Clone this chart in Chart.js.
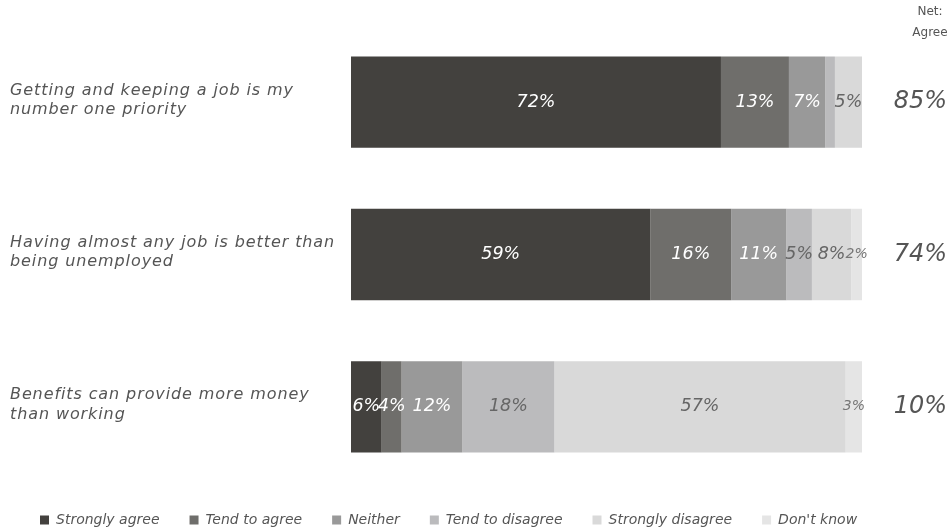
<!DOCTYPE html>
<html><head><meta charset="utf-8">
<script src="https://cdn.jsdelivr.net/npm/chart.js@4.4.1/dist/chart.umd.min.js"></script>
<style>html,body{margin:0;padding:0;background:#fff;}</style>
</head><body>
<canvas id="c" width="950" height="528"></canvas>
<script>
const categories = [
  ["Getting and keeping a job is my", "number one priority"],
  ["Having almost any job is better than", "being unemployed"],
  ["Benefits can provide more money", "than working"]
];
const seriesNames = ["Strongly agree", "Tend to agree", "Neither", "Tend to disagree", "Strongly disagree", "Don't know"];
const stronglyAgree    = [72.4, 58.6, 6.0];
const tendToAgree      = [13.3, 15.8, 3.9];
const neither          = [7.1, 10.8, 11.9];
const tendToDisagree   = [1.9, 5.0, 18.0];
const stronglyDisagree = [5.3, 7.7, 57.0];
const dontKnow         = [0, 2.1, 3.2];
const netAgree = ["85%", "74%", "10%"];
const netHeader = ["Net:", "Agree"];

const palette = ['#43413e', '#6f6e6b', '#999999', '#bbbbbd', '#d9d9d9', '#e5e5e5'];
const labelColors = ['#ffffff', '#ffffff', '#ffffff', '#666666', '#666666', '#777777'];
const FAM = "'DejaVu Sans', sans-serif";

const seriesValues = [stronglyAgree, tendToAgree, neither, tendToDisagree, stronglyDisagree, dontKnow];

const valueLabels = {
  id: 'valueLabels',
  afterDatasetsDraw(chart) {
    const ctx = chart.ctx, a = chart.chartArea;
    ctx.save();
    ctx.beginPath();
    ctx.rect(a.left, 0, chart.width - a.left, chart.height);
    ctx.clip();
    ctx.textAlign = 'center';
    ctx.textBaseline = 'middle';
    chart.data.datasets.forEach((ds, di) => {
      const meta = chart.getDatasetMeta(di);
      meta.data.forEach((bar, i) => {
        const v = ds.data[i];
        if (!(v >= 2)) return;
        ctx.font = 'italic ' + (v < 3.5 ? 14 : 17.5) + 'px ' + FAM;
        ctx.fillStyle = labelColors[di];
        const p = bar.getCenterPoint();
        ctx.fillText(Math.round(v) + '%', p.x, p.y);
      });
    });
    ctx.restore();
  }
};

const header = {
  id: 'header',
  afterDraw(chart) {
    const ctx = chart.ctx, s = chart.scales.y2, a = chart.chartArea;
    ctx.save();
    ctx.font = '12px ' + FAM;
    ctx.fillStyle = '#555555';
    ctx.textAlign = 'center';
    ctx.textBaseline = 'middle';
    const x = s.right - 17;
    ctx.fillText(netHeader[0], x, a.top - 14);
    ctx.fillText(netHeader[1], x, a.top + 7);
    ctx.restore();
  }
};

// slightly wider tracking for the category labels
const spacing = {
  id: 'spacing',
  beforeDraw(chart) {
    const s = chart.scales.y;
    if (s && !s._spaced) {
      const orig = s.drawLabels;
      s.drawLabels = function (ca) {
        const c = this.ctx;
        const prev = c.letterSpacing;
        try { c.letterSpacing = '0.9px'; } catch (e) {}
        orig.call(this, ca);
        try { c.letterSpacing = prev || '0px'; } catch (e) {}
      };
      s._spaced = true;
    }
  }
};

new Chart(document.getElementById('c'), {
  type: 'bar',
  data: {
    labels: categories,
    datasets: seriesNames.map((name, i) => ({
      label: name,
      data: seriesValues[i],
      backgroundColor: palette[i],
      borderWidth: 0,
      xAxisID: 'x',
      yAxisID: 'y',
      barPercentage: 0.6,
      categoryPercentage: 1.0
    }))
  },
  options: {
    indexAxis: 'y',
    responsive: false,
    animation: false,
    layout: { padding: { left: 10, right: 3, top: 26, bottom: 0 } },
    scales: {
      x: { stacked: true, display: false, min: 0, max: 100 },
      y: {
        stacked: true,
        grid: { display: false },
        border: { display: false },
        ticks: { crossAlign: 'far', color: '#555555', padding: 0, labelOffset: -2,
          font: { family: FAM, size: 16, style: 'italic', lineHeight: 1.2 } },
        afterFit(s) { s.width = 341; }
      },
      y2: {
        type: 'category',
        labels: netAgree,
        position: 'right',
        offset: true,
        grid: { display: false },
        border: { display: false },
        ticks: { crossAlign: 'far', color: '#555555', padding: 0,
          font: { family: FAM, size: 24, style: 'italic' } },
        afterFit(s) { s.width = 85; }
      }
    },
    plugins: {
      tooltip: { enabled: false },
      legend: {
        position: 'bottom',
        align: 'start',
        maxHeight: 45,
        labels: {
          boxWidth: 9, boxHeight: 9, padding: 30, color: '#555555',
          font: { family: FAM, size: 14, style: 'italic' }
        }
      }
    }
  },
  plugins: [valueLabels, header, spacing]
});
</script>
</body></html>
